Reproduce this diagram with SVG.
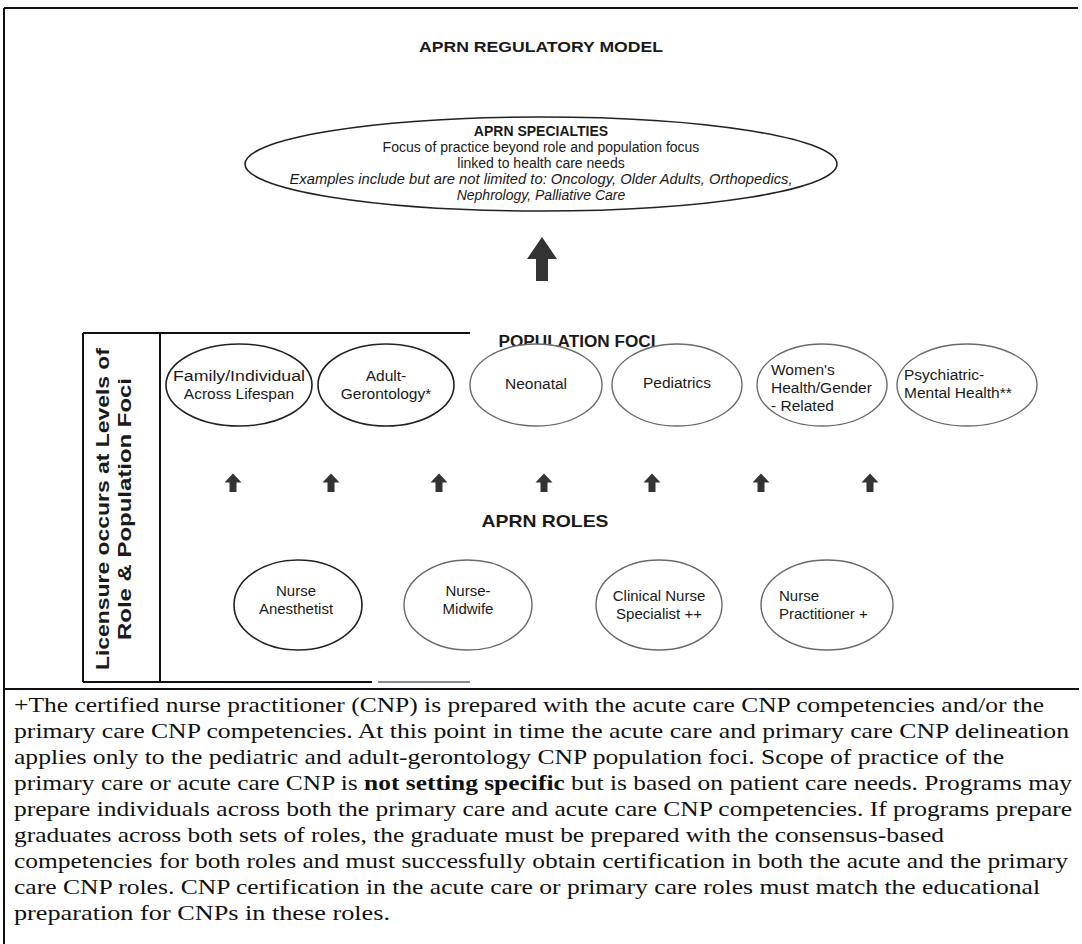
<svg xmlns="http://www.w3.org/2000/svg" width="1082" height="944" viewBox="0 0 1082 944">
<style>
text{font-family:"Liberation Sans",Arial,sans-serif;fill:#1a1a1a}
.b{font-weight:bold}
.c{text-anchor:middle}
.it{font-style:italic}
.sp{font-size:14px}
.pf{font-size:15.5px}
.rl{font-size:15px}
.el{fill:#fff;stroke:#222;stroke-width:1.6}
.lg{stroke:#6a6a6a;stroke-width:1.4}
.ln{stroke:#111;stroke-width:2;fill:none}
.fn{font-family:"Liberation Serif","Times New Roman",serif;font-size:21px;fill:#111}
.ar{fill:#333}
</style>
<defs>
<path id="sa" d="M0,-9.5 L8.5,-0.5 L3.5,-0.5 L3.5,9 L-3.5,9 L-3.5,-0.5 L-8.5,-0.5 Z"/>
</defs>
<g id="frame">
<line class="ln" x1="4" y1="8" x2="1078" y2="8"/>
<line class="ln" x1="4" y1="8" x2="4" y2="944"/>
<line class="ln" x1="4" y1="689" x2="1079" y2="689"/>
</g>
<g id="title"><text class="b c" x="541" y="52" font-size="15" textLength="244" lengthAdjust="spacingAndGlyphs">APRN REGULATORY MODEL</text></g>
<g id="specialties">
<ellipse class="el" cx="541" cy="164" rx="296" ry="47" stroke-width="2"/>
<text class="sp c b" x="541" y="136">APRN SPECIALTIES</text>
<text class="sp c" x="541" y="152">Focus of practice beyond role and population focus</text>
<text class="sp c" x="541" y="168">linked to health care needs</text>
<text class="sp c it" x="541" y="184" textLength="503" lengthAdjust="spacingAndGlyphs">Examples include but are not limited to: Oncology, Older Adults, Orthopedics,</text>
<text class="sp c it" x="541" y="200">Nephrology, Palliative Care</text>
</g>
<g id="licensure-box">
<line class="ln" x1="83" y1="333" x2="470" y2="333"/>
<line class="ln" x1="83" y1="333" x2="83" y2="682"/>
<line class="ln" x1="160" y1="333" x2="160" y2="682"/>
<line class="ln" x1="83" y1="682" x2="372" y2="682"/>
<line x1="378" y1="682" x2="470" y2="682" stroke="#888" stroke-width="2"/>
<text class="b c" font-size="18" textLength="322" lengthAdjust="spacingAndGlyphs" transform="translate(109,509) rotate(-90)">Licensure occurs at Levels of</text>
<text class="b c" font-size="18" textLength="262" lengthAdjust="spacingAndGlyphs" transform="translate(131,509) rotate(-90)">Role &amp; Population Foci</text>
</g>
<g id="population-foci-label"><text class="b c" x="577" y="347" font-size="16" textLength="157" lengthAdjust="spacingAndGlyphs">POPULATION FOCI</text></g>
<g id="pf-family"><ellipse class="el" cx="239" cy="385" rx="73" ry="41"/>
<text class="pf c" x="239" y="381" textLength="132" lengthAdjust="spacingAndGlyphs">Family/Individual</text><text class="pf c" x="239" y="399">Across Lifespan</text></g>
<g id="pf-adult"><ellipse class="el" cx="386" cy="385" rx="68" ry="41"/>
<text class="pf c" x="386" y="381">Adult-</text><text class="pf c" x="386" y="399">Gerontology*</text></g>
<g id="pf-neonatal"><ellipse class="el lg" cx="536" cy="385" rx="66" ry="41"/>
<text class="pf c" x="536" y="389">Neonatal</text></g>
<g id="pf-pediatrics"><ellipse class="el lg" cx="677" cy="385" rx="65" ry="41"/>
<text class="pf c" x="677" y="388">Pediatrics</text></g>
<g id="pf-womens"><ellipse class="el lg" cx="822" cy="385" rx="65" ry="41"/>
<text class="pf" x="771" y="375">Women's</text><text class="pf" x="771" y="393">Health/Gender</text><text class="pf" x="771" y="411">- Related</text></g>
<g id="pf-psych"><ellipse class="el lg" cx="967" cy="385" rx="70" ry="41"/>
<text class="pf" x="904" y="380">Psychiatric-</text><text class="pf" x="904" y="398">Mental Health**</text></g>
<g id="roles-label"><text class="b c" x="545" y="527" font-size="17" textLength="127" lengthAdjust="spacingAndGlyphs">APRN ROLES</text></g>
<g id="role-crna"><ellipse class="el" cx="298" cy="605" rx="64" ry="45"/>
<text class="rl c" x="296" y="596">Nurse</text><text class="rl c" x="296" y="614">Anesthetist</text></g>
<g id="role-cnm"><ellipse class="el lg" cx="468" cy="605" rx="64" ry="45"/>
<text class="rl c" x="468" y="596">Nurse-</text><text class="rl c" x="468" y="614">Midwife</text></g>
<g id="role-cns"><ellipse class="el lg" cx="659" cy="605" rx="63" ry="45"/>
<text class="rl c" x="659" y="601">Clinical Nurse</text><text class="rl c" x="659" y="619">Specialist ++</text></g>
<g id="role-np"><ellipse class="el lg" cx="827" cy="605" rx="66" ry="45"/>
<text class="rl" x="779" y="601">Nurse</text><text class="rl" x="779" y="619">Practitioner +</text></g>
<g id="connectors">
<path class="ar" d="M542,237 L557,259 L548,259 L548,281 L536,281 L536,259 L527,259 Z"/>
<use class="ar" href="#sa" x="233" y="483"/>
<use class="ar" href="#sa" x="331" y="483"/>
<use class="ar" href="#sa" x="439" y="483"/>
<use class="ar" href="#sa" x="544" y="483"/>
<use class="ar" href="#sa" x="652" y="483"/>
<use class="ar" href="#sa" x="761" y="483"/>
<use class="ar" href="#sa" x="870" y="483"/>
</g>
<g id="footnote">
<text class="fn" x="14" y="712" textLength="1030" lengthAdjust="spacingAndGlyphs">+The certified nurse practitioner (CNP) is prepared with the acute care CNP competencies and/or the</text>
<text class="fn" x="14" y="738" textLength="1055" lengthAdjust="spacingAndGlyphs">primary care CNP competencies.  At this point in time the acute care and primary care CNP delineation</text>
<text class="fn" x="14" y="764" textLength="990" lengthAdjust="spacingAndGlyphs">applies only to the pediatric and adult-gerontology CNP population foci.  Scope of practice of the</text>
<text class="fn" x="14" y="790" textLength="1058" lengthAdjust="spacingAndGlyphs">primary care or acute care CNP is <tspan font-weight="bold">not setting specific</tspan> but is based on patient care needs. Programs may</text>
<text class="fn" x="14" y="816" textLength="1058" lengthAdjust="spacingAndGlyphs">prepare individuals across both the primary care and acute care CNP competencies. If programs prepare</text>
<text class="fn" x="14" y="842" textLength="930" lengthAdjust="spacingAndGlyphs">graduates across both sets of roles, the graduate must be prepared with the consensus-based</text>
<text class="fn" x="14" y="868" textLength="1054" lengthAdjust="spacingAndGlyphs">competencies for both roles and must successfully obtain certification in both the acute and the primary</text>
<text class="fn" x="14" y="894" textLength="1026" lengthAdjust="spacingAndGlyphs">care CNP roles. CNP certification in the acute care or primary care roles must match the educational</text>
<text class="fn" x="14" y="920" textLength="376" lengthAdjust="spacingAndGlyphs">preparation for CNPs in these roles.</text>
</g>
</svg>
